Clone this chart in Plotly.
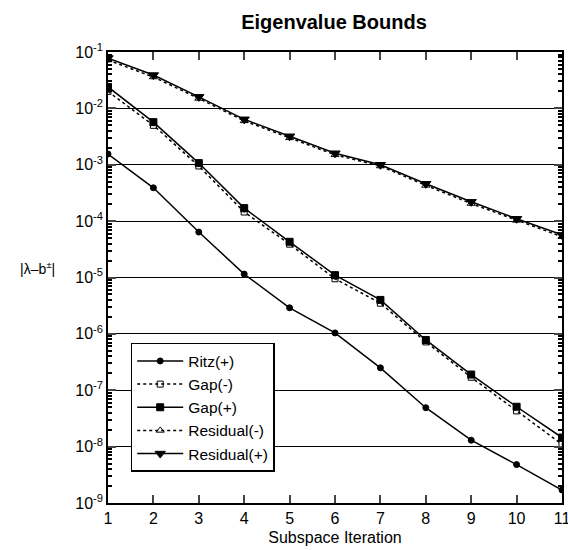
import plotly.graph_objects as go

iterations = list(range(1, 12))
ritz_plus = [1.55e-3, 3.9e-4, 6.4e-5, 1.15e-5, 2.9e-6, 1.04e-6, 2.5e-7, 4.9e-8, 1.3e-8, 4.8e-9, 1.7e-9]
gap_minus = [2.0e-2, 5.0e-3, 9.5e-4, 1.45e-4, 3.9e-5, 9.5e-6, 3.5e-6, 7.2e-7, 1.7e-7, 4.3e-8, 1.1e-8]
gap_plus = [2.4e-2, 5.7e-3, 1.07e-3, 1.7e-4, 4.3e-5, 1.1e-5, 4.0e-6, 7.8e-7, 1.9e-7, 5.1e-8, 1.45e-8]
res_minus = [7.2e-2, 3.6e-2, 1.5e-2, 6.0e-3, 3.0e-3, 1.5e-3, 9.5e-4, 4.3e-4, 2.05e-4, 1.03e-4, 5.3e-5]
res_plus = [7.8e-2, 3.9e-2, 1.6e-2, 6.4e-3, 3.2e-3, 1.6e-3, 1.0e-3, 4.6e-4, 2.2e-4, 1.1e-4, 5.7e-5]
ytick_vals = [10.0 ** e for e in range(-9, 0)]
ytick_text = ["10<sup>%d</sup>" % e for e in range(-9, 0)]

FONT = "Liberation Sans, Arial, Helvetica, sans-serif"

fig = go.Figure()
series = [
    ("Ritz(+)", ritz_plus, "solid", "circle", 6),
    ("Gap(-)", gap_minus, "dot", "square-open", 6),
    ("Gap(+)", gap_plus, "solid", "square", 7),
    ("Residual(-)", res_minus, "dot", "triangle-up-open", 7),
    ("Residual(+)", res_plus, "solid", "triangle-down", 9),
]
for name, ys, dash, sym, sz in series:
    fig.add_trace(go.Scatter(
        x=iterations, y=ys, name=name, mode="lines+markers",
        line=dict(color="black", width=1.5, dash=dash),
        marker=dict(symbol=sym, size=sz, color="black", line=dict(color="black", width=1)),
    ))

fig.update_layout(
    width=568, height=550,
    margin=dict(l=108, r=6, t=52, b=47, autoexpand=False),
    paper_bgcolor="white", plot_bgcolor="white",
    font=dict(family=FONT, size=16, color="black"),
    title=dict(text="<b>Eigenvalue Bounds</b>", x=0.588, xanchor="center", y=0.96, yanchor="middle",
               font=dict(size=20, family=FONT)),
    showlegend=True,
    legend=dict(x=0.05, y=0.355, xanchor="left", yanchor="top",
                bordercolor="black", borderwidth=1.5, bgcolor="white",
                font=dict(size=15.5, family=FONT), tracegroupgap=0, itemwidth=46),
    xaxis=dict(range=[1, 11], tickvals=iterations, ticks="inside", ticklen=8, tickwidth=1.5,
               showline=True, linecolor="black", linewidth=1.5, mirror="ticks", showgrid=False,
               zeroline=False, title=dict(text="Subspace Iteration", font=dict(size=16), standoff=6),
               tickfont=dict(size=16), ticklabeloverflow="allow"),
    yaxis=dict(type="log", range=[-9, -1], tickvals=ytick_vals, ticktext=ytick_text,
               ticks="inside", ticklen=8, tickwidth=1.5,
               showline=True, linecolor="black", linewidth=1.5, mirror="ticks",
               showgrid=True, gridcolor="black", gridwidth=1.2, zeroline=False,
               tickfont=dict(size=16), ticklabeloverflow="allow",
               minor=dict(ticks="inside", ticklen=4, dtick="D1", showgrid=False, tickcolor="black")),
)
fig.add_annotation(text="|λ–b<sup>±</sup>|", xref="paper", yref="paper", x=-0.155, y=0.52,
                   showarrow=False, font=dict(size=14, family=FONT), xanchor="center", yanchor="middle")

fig.write_html("out.html", config={"displayModeBar": False},
               post_script="document.body.style.margin='0px';")
